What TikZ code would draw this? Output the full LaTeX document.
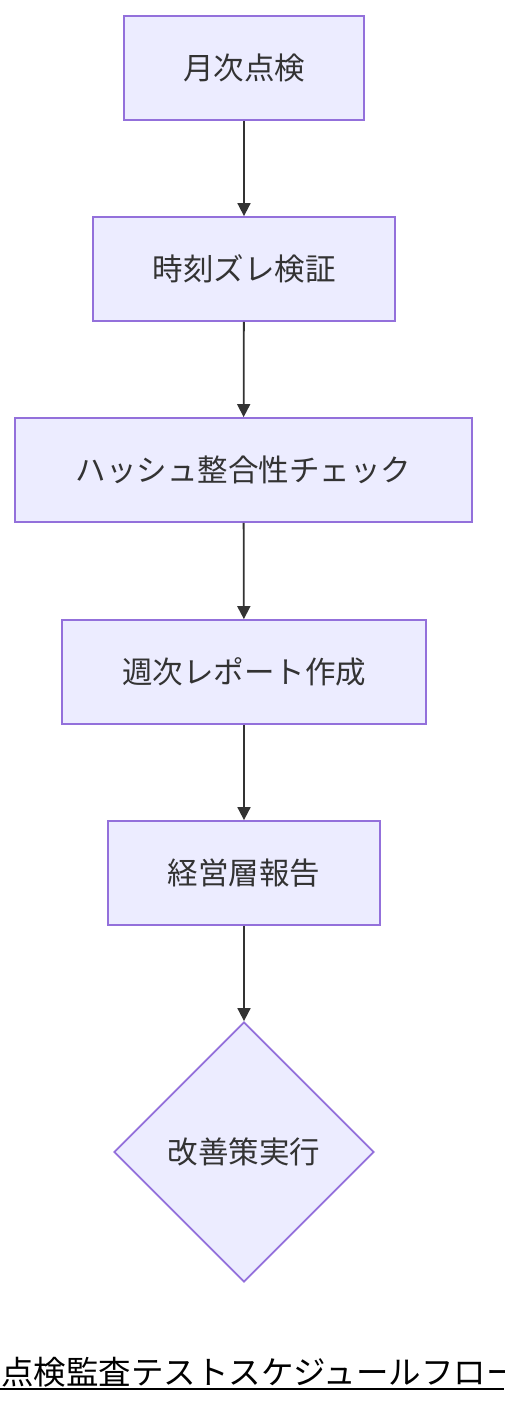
\documentclass[tikz,border=0pt]{standalone}
\usepackage{fontspec}
\setmainfont{Noto Sans CJK JP}
\usetikzlibrary{shapes.geometric,arrows.meta}
\definecolor{nfill}{HTML}{ECECFF}
\definecolor{nline}{HTML}{9370DB}
\definecolor{tcol}{HTML}{333333}
\begin{document}
\begin{tikzpicture}[x=1pt,y=-1pt,
  box/.style={draw=nline,fill=nfill,line width=1.8pt,text=tcol,font=\fontsize{30.5}{33}\selectfont,inner sep=0pt,anchor=center},
  dia/.style={draw=nline,fill=nfill,line width=1.8pt,text=tcol,font=\fontsize{30.5}{33}\selectfont,diamond,inner sep=0pt,minimum width=260pt,minimum height=260pt,aspect=1},
  conn/.style={draw=tcol,line width=1.8pt,-{Triangle[length=13pt,width=13pt]}}]
\useasboundingbox (0,0) rectangle (504,1404);
\begin{scope}
\clip (0,0) rectangle (504,1404);
\node[box,minimum width=240pt,minimum height=104pt] (a) at (244,68) {月次点検};
\node[box,minimum width=302pt,minimum height=104pt] (b) at (244,269) {時刻ズレ検証};
\node[box,minimum width=457pt,minimum height=104pt] (c) at (243.5,470) {ハッシュ整合性チェック};
\node[box,minimum width=364pt,minimum height=104pt] (d) at (244,672) {週次レポート作成};
\node[box,minimum width=272pt,minimum height=104pt] (e) at (244,873) {経営層報告};
\node[dia] (f) at (244,1152) {改善策実行};
\draw[conn] (a) -- (b);
\draw[conn] (b) -- (c);
\draw[conn] (c) -- (d);
\draw[conn] (d) -- (e);
\draw[conn] (e) -- (f);
\node[anchor=base west,inner sep=0pt,font=\fontsize{32.5}{35}\selectfont,text=black] (t) at (1,1384) {点検監査テストスケジュールフロー};
\coordinate (ul) at (0,1388.5);
\coordinate (ur) at (504,1388.5);
\draw[line width=2pt,black] (ul) -- (ur);
\end{scope}
\end{tikzpicture}
\end{document}
